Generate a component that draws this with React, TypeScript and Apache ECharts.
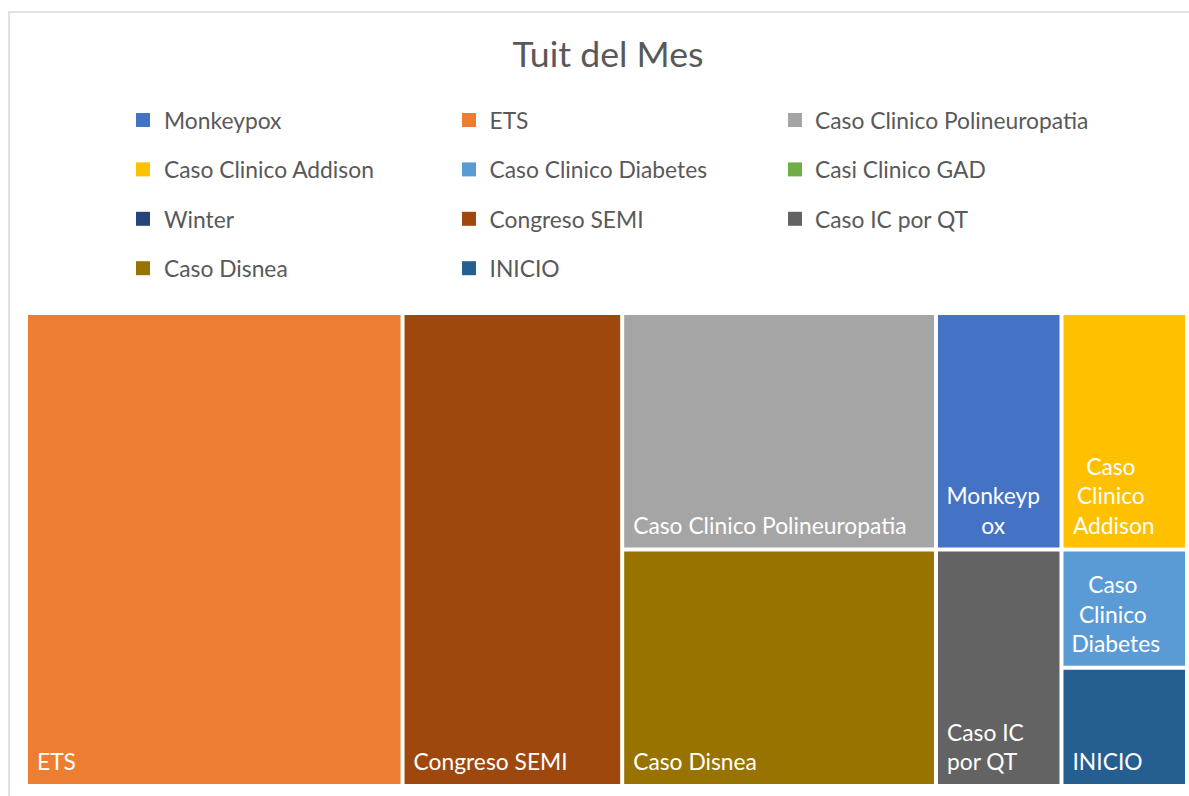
import React, { useEffect, useRef } from "react";
import * as echarts from "echarts";

const TITLE = "Tuit del Mes";

const categories: string[] = [
  "Monkeypox",
  "ETS",
  "Caso Clinico Polineuropatia",
  "Caso Clinico Addison",
  "Caso Clinico Diabetes",
  "Casi Clinico GAD",
  "Winter",
  "Congreso SEMI",
  "Caso IC por QT",
  "Caso Disnea",
  "INICIO",
];

const values: number[] = [2, 12, 5, 2, 1, 0, 0, 7, 2, 5, 1];

const colors: string[] = [
  "#4472C4",
  "#ED7D31",
  "#A5A5A5",
  "#FFC000",
  "#5B9BD5",
  "#70AD47",
  "#264478",
  "#9E480E",
  "#636363",
  "#997300",
  "#255E91",
];

// Tile arrangement (layout grouping only, mimicking the spreadsheet's treemap)
type Arr = string | Arr[];
const arrangement: Arr[] = [
  "ETS",
  "Congreso SEMI",
  ["Caso Clinico Polineuropatia", "Caso Disnea"],
  [
    ["Monkeypox", "Caso Clinico Addison"],
    ["Caso IC por QT", ["Caso Clinico Diabetes", "INICIO"]],
  ],
];

// Labels whose wrapped lines are centred (style only)
const centeredLabelShift: Record<string, number> = {
  "Monkeypox": -5,
  "Caso Clinico Addison": -10,
  "Caso Clinico Diabetes": -8,
};

const FONT = "Lato";
const TEXT_GRAY = "#595959";

let groupCounter = 0;
function buildNode(a: Arr): any {
  if (typeof a === "string") {
    const i = categories.indexOf(a);
    if (i < 0 || !(values[i] > 0)) return null;
    const node: any = {
      name: a,
      value: values[i],
      itemStyle: { color: colors[i] },
    };
    if (a in centeredLabelShift) {
      node.label = { position: "insideBottom", offset: [centeredLabelShift[a], 0] };
    }
    return node;
  }
  const children = a.map(buildNode).filter((n) => n);
  if (!children.length) return null;
  groupCounter += 1;
  return { name: "grupo" + groupCounter, children };
}

export default function App() {
  const ref = useRef<HTMLDivElement>(null);

  useEffect(() => {
    if (!ref.current) return;
    const chart = echarts.init(ref.current, null, { renderer: "svg" });
    groupCounter = 0;
    const tree = arrangement.map(buildNode).filter((n) => n);

    const legendGraphics: any[] = [];
    categories.forEach((name, i) => {
      const col = i % 3;
      const row = Math.floor(i / 3);
      const cy = 120 + row * 49.4;
      legendGraphics.push({
        type: "rect",
        shape: { x: 136 + col * 326, y: cy - 7, width: 14, height: 14 },
        style: { fill: colors[i] },
        silent: true,
      });
      legendGraphics.push({
        type: "text",
        x: 164 + col * 325.5,
        y: cy,
        style: {
          text: name,
          fill: TEXT_GRAY,
          font: `22.8px ${FONT}`,
          verticalAlign: "middle",
          align: "left",
        },
        silent: true,
      });
    });

    chart.setOption({
      animation: false,
      backgroundColor: "#ffffff",
      graphic: [
        {
          type: "rect",
          shape: { x: 9, y: 12, width: 1400, height: 1000 },
          style: { fill: "none", stroke: "#e2e2e2", lineWidth: 2 },
          silent: true,
          z: -1,
        },
        {
          type: "text",
          x: 608,
          y: 53,
          style: {
            text: TITLE,
            fill: TEXT_GRAY,
            font: `35.7px ${FONT}`,
            align: "center",
            verticalAlign: "middle",
          },
          silent: true,
        },
        ...legendGraphics,
      ],
      series: [
        {
          type: "treemap",
          left: 28,
          top: 315,
          width: 1157,
          height: 469,
          roam: false,
          nodeClick: false,
          sort: false,
          squareRatio: 0.5,
          breadcrumb: { show: false },
          itemStyle: { borderWidth: 0, gapWidth: 4, borderColor: "#ffffff" },
          label: {
            show: true,
            position: "insideBottomLeft",
            color: "#ffffff",
            fontFamily: FONT,
            fontSize: 22.8,
            lineHeight: 29.5,
            overflow: "break",
            padding: [0, 10, 8, 9],
          },
          upperLabel: { show: false },
          data: tree,
        },
      ],
    });

    return () => chart.dispose();
  }, []);

  return (
    <div
      ref={ref}
      style={{ position: "fixed", left: 0, top: 0, width: 1189, height: 796 }}
    />
  );
}
